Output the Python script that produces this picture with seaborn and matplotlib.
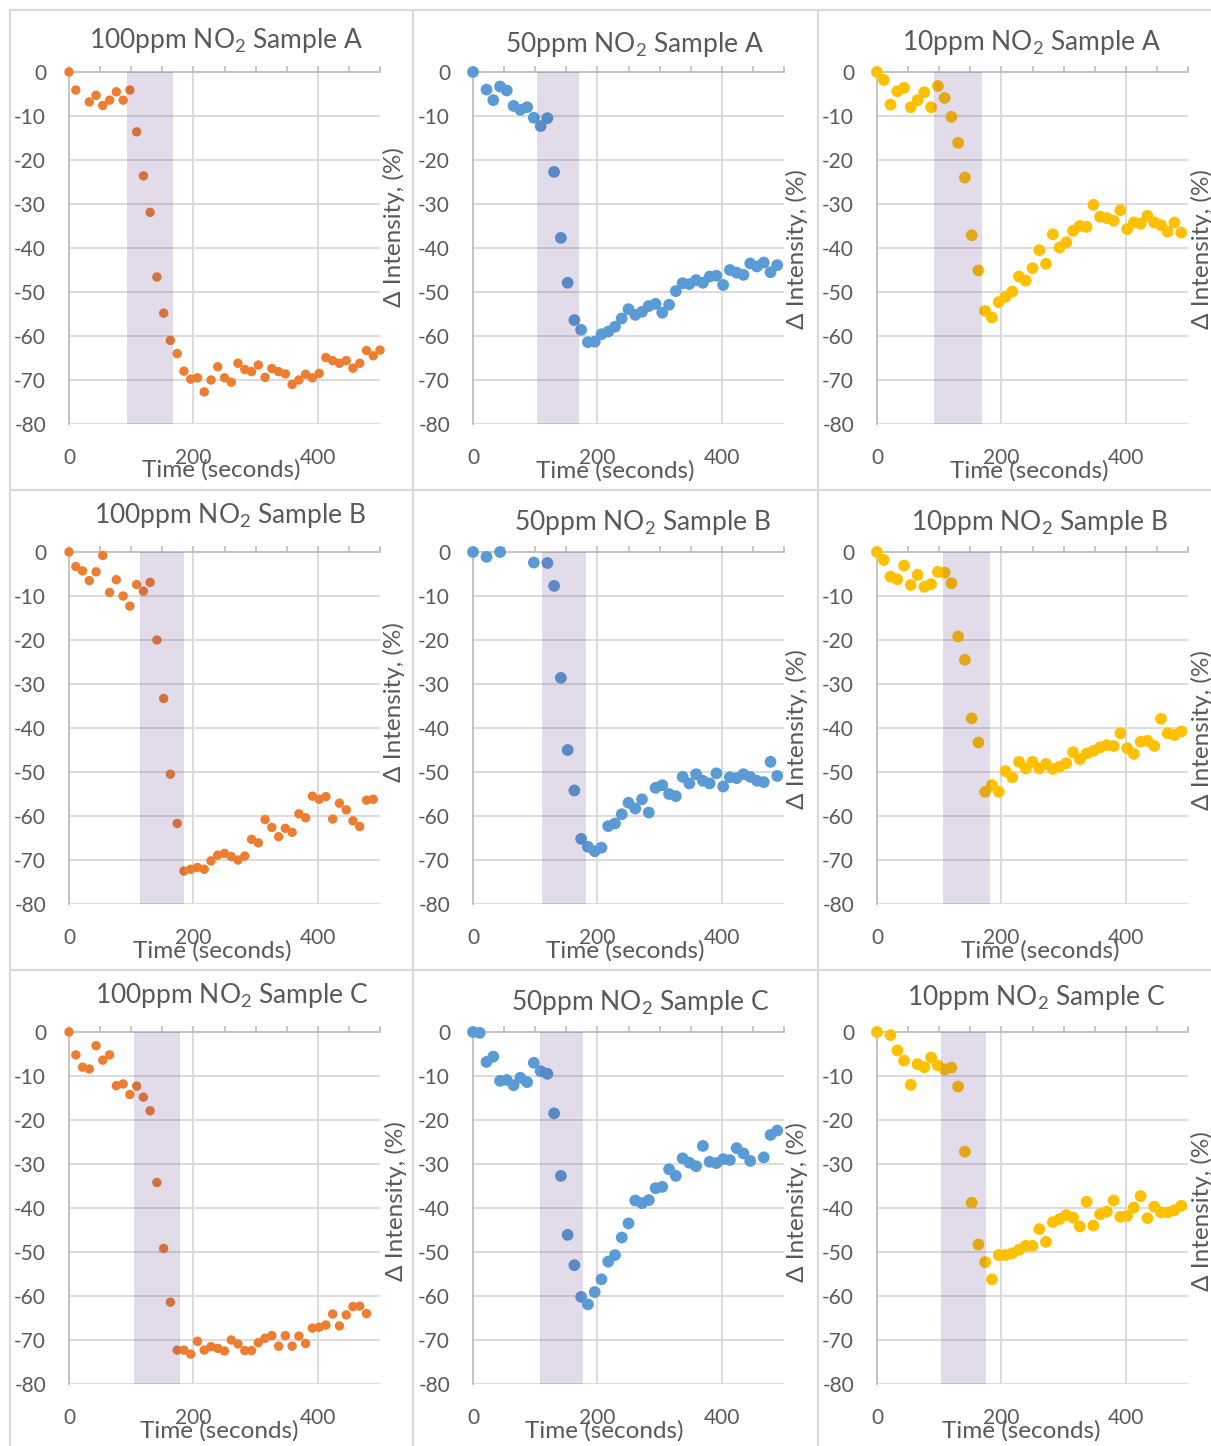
import numpy as np
import pandas as pd
import matplotlib
matplotlib.use("Agg")
import matplotlib.pyplot as plt
import seaborn as sns
from matplotlib.patches import Rectangle
from matplotlib.ticker import MultipleLocator, FixedLocator

# ---------------- data ----------------
time_s = [0, 10.9, 21.7, 32.6, 43.5, 54.3, 65.2, 76.1, 87.0, 97.8, 108.7, 119.6,
          130.4, 141.3, 152.2, 163.0, 173.9, 184.8, 195.7, 206.5, 217.4, 228.3,
          239.1, 250.0, 260.9, 271.7, 282.6, 293.5, 304.3, 315.2, 326.1, 337.0,
          347.8, 358.7, 369.6, 380.4, 391.3, 402.2, 413.0, 423.9, 434.8, 445.7,
          456.5, 467.4, 478.3, 489.1, 500.0]

a100 = [0, -4.1, None, -6.8, -5.3, -7.6, -6.4, -4.5, -6.4, -4.1, -13.6, -23.6, -31.9, -46.6,
        -54.8, -61, -64, -68, -69.8, -69.5, -72.7, -70, -67, -69.5, -70.5, -66.2, -67.6, -68.1,
        -66.6, -69.4, -67.4, -68.1, -68.6, -71, -70, -68.7, -69.5, -68.5, -64.9, -65.6, -66.2,
        -65.6, -67.3, -66.2, -63.3, -64.5, -63.2]
a50 = [0, None, -4.0, -6.4, -3.3, -4.2, -7.7, -8.6, -8.0, -10.4, -12.3, -10.5, -22.7, -37.7,
       -47.9, -56.4, -58.6, -61.4, -61.3, -59.6, -59, -57.9, -56, -53.9, -55.2, -54.5, -53.2,
       -52.7, -54.7, -52.9, -49.8, -48, -48.2, -47.3, -47.9, -46.5, -46.3, -48.4, -45, -45.6,
       -46.1, -43.5, -44.2, -43.3, -45.5, -43.9, None]
a10 = [0, -1.8, -7.4, -4.4, -3.6, -8.0, -6.4, -4.6, -8.0, -3.2, -5.9, -10.2, -16.1, -24,
       -37.1, -45.1, -54.3, -55.8, -52.3, -51.1, -49.9, -46.5, -47.4, -44.6, -40.5, -43.6,
       -36.9, -39.9, -38.7, -36.1, -35, -35.2, -30.2, -32.9, -33.2, -33.8, -31.4, -35.7, -34.2,
       -34.5, -32.7, -34.2, -34.8, -36.3, -34.2, -36.5, None]
b100 = [0, -3.3, -4.3, -6.5, -4.5, -0.8, -9.2, -6.3, -10, -12.3, -7.4, -8.9, -6.9, -20, -33.3,
        -50.5, -61.7, -72.5, -72.1, -71.7, -72.1, -70.2, -68.9, -68.5, -69.2, -70, -69.1, -65.3,
        -66.1, -60.8, -62.6, -64.7, -62.8, -63.7, -59.5, -60.4, -55.5, -56.2, -55.6, -60.7,
        -57.1, -58.6, -61.1, -62.4, -56.4, -56.2, None]
b50 = [0, None, -1.1, None, 0, None, None, None, None, -2.4, None, -2.5, -7.7, -28.6, -45,
       -54.2, -65.2, -67, -68, -67.2, -62.3, -61.7, -59.6, -57, -58.3, -56.2, -59.2, -53.6, -53,
       -55, -55.5, -51.1, -52.6, -50.5, -52, -52.6, -50.3, -53.3, -51.2, -51.4, -50.5, -51.1,
       -52, -52.3, -47.7, -50.9, None]
b10 = [0, -1.8, -5.6, -6.2, -3.1, -7.5, -5.2, -7.9, -7.3, -4.5, -4.7, -7.1, -19.2, -24.5,
       -37.8, -43.3, -54.5, -53, -54.5, -49.8, -51.2, -47.7, -49.2, -47.7, -49.2, -48.2, -49.3,
       -48.8, -48, -45.5, -47.1, -45.8, -45.2, -44.4, -43.9, -44.1, -41.2, -44.6, -45.9, -43.1,
       -42.9, -44.1, -37.9, -41.2, -41.6, -40.8, None]
c100 = [0, -5.2, -8.0, -8.4, -3.1, -6.4, -5.2, -12.2, -11.8, -14.2, -12.3, -14.8, -17.9, -34.2,
        -49.2, -61.4, -72.3, -72.3, -73.2, -70.3, -72.3, -71.5, -71.9, -72.5, -70, -70.9, -72.4,
        -72.4, -70.6, -69.6, -69, -71.4, -69, -71.4, -69.1, -70.8, -67.3, -67.1, -66.6, -64.1,
        -66.8, -64.3, -62.4, -62.3, -64, None, None]
c50 = [0, -0.2, -6.8, -5.6, -11.1, -10.9, -12.1, -10.4, -11.4, -7.0, -8.9, -9.5, -18.5, -32.7,
       -46.1, -53, -60.2, -61.9, -59.1, -56.2, -52.2, -50.7, -46.7, -43.5, -38.3, -38.9, -38.2,
       -35.5, -35.2, -31.2, -32.7, -28.7, -29.7, -30.5, -25.9, -29.5, -29.8, -28.9, -29.1,
       -26.4, -27.6, -29.3, None, -28.5, -23.4, -22.4, None]
c10 = [0, None, -0.7, -4.2, -6.5, -12, -7.3, -8.0, -5.8, -7.6, -8.5, -8.1, -12.4, -27.2,
       -38.8, -48.3, -52.3, -56.2, -50.7, -50.7, -50.3, -49.5, -48.6, -48.6, -44.8, -47.7,
       -43.2, -42.5, -41.6, -42.2, -44.2, -38.6, -44, -41.4, -40.8, -38.3, -42, -41.8, -39.9,
       -37.3, -42.3, -39.7, -41, -41, -40.5, -39.5, None]

concentrations = ["100ppm", "50ppm", "10ppm"]
samples = ["A", "B", "C"]
series = [[a100, a50, a10], [b100, b50, b10], [c100, c50, c10]]
shade_start = [[93, 103, 91], [114, 111, 106], [105, 108, 103]]
shade_end = [[168, 170, 169], [185, 181, 182], [178, 177, 175]]
x_ticks = [0, 200, 400]
y_ticks = [0, -10, -20, -30, -40, -50, -60, -70, -80]

# ---------------- style ----------------
sns.set_theme(style="white")
plt.rcParams["font.family"] = ["Lato", "DejaVu Sans"]
plt.rcParams["mathtext.fontset"] = "custom"
plt.rcParams["mathtext.rm"] = "Lato"
plt.rcParams["mathtext.it"] = "Lato"
plt.rcParams["axes.unicode_minus"] = False

TXT = "#595959"
GRID = "#d9d9d9"
colors = ["#ED7D31", "#5B9BD5", "#FFC000"]
msizes = [46, 72, 72]

W, H = 1211, 1446
fig = plt.figure(figsize=(W / 100, H / 100), dpi=100)
fig.patch.set_facecolor("white")

col_x = [(69, 380), (473, 784), (877, 1188)]
row_y = [(72, 424), (552, 904), (1032, 1384)]
box_x = [(10, 413), (413, 818), (818, 1216)]
box_y = [(10, 490), (490, 970), (970, 1451)]

title_pos = [[(226, 48), (634, 52), (1031, 50)],
             [(230, 523), (642, 530), (1039, 530)],
             [(232, 1003), (640, 1010), (1036, 1005)]]
xlab_pos = [[(221, 477), (615, 478), (1029, 478)],
            [(212, 958), (625, 958), (1040, 958)],
            [(219, 1438), (604, 1438), (1021, 1438)]]
ylab_pos = [[(394, 227), (797, 249), (1202, 249)],
            [(394, 702), (797, 729), (1202, 730)],
            [(396, 1201), (797, 1202), (1202, 1211)]]

for r in range(3):
    for c in range(3):
        bx0, bx1 = box_x[c]
        by0, by1 = box_y[r]
        fig.add_artist(Rectangle((bx0 / W, 1 - by1 / H), (bx1 - bx0) / W, (by1 - by0) / H,
                                 transform=fig.transFigure, fill=False, ec=GRID, lw=1.5,
                                 zorder=0))

        L, R = col_x[c]
        T, B = row_y[r]
        ax = fig.add_axes([L / W, 1 - B / H, (R - L) / W, (B - T) / H])
        ax.set_facecolor("none")

        df = pd.DataFrame({"t": time_s, "v": series[r][c]}).dropna()
        sns.scatterplot(data=df, x="t", y="v", ax=ax, color=colors[c], s=msizes[c],
                        edgecolor="none", linewidth=0, zorder=3, legend=False, clip_on=False)

        ax.axvspan(shade_start[r][c], shade_end[r][c], color=(95 / 255, 60 / 255, 135 / 255),
                   alpha=0.18, lw=0, zorder=5)

        ax.set_xlim(0, 500)
        ax.set_ylim(-80, 0)
        ax.xaxis.set_major_locator(FixedLocator(x_ticks))
        ax.xaxis.set_minor_locator(MultipleLocator(50))
        ax.yaxis.set_major_locator(FixedLocator(y_ticks))

        for yv in y_ticks[1:]:
            ax.axhline(yv, color=GRID, lw=1.3, zorder=1)
        for xv in x_ticks[1:]:
            ax.axvline(xv, color=GRID, lw=1.3, zorder=1)

        for s in ["bottom", "right"]:
            ax.spines[s].set_visible(False)
        for s in ["top", "left"]:
            ax.spines[s].set_color("#bfbfbf")
            ax.spines[s].set_linewidth(1.3)
            ax.spines[s].set_zorder(2)

        ax.tick_params(axis="x", which="both", top=True, bottom=False, labeltop=False,
                       labelbottom=True, direction="out", length=4, width=1.2,
                       color="#bfbfbf", pad=13, labelsize=15, labelcolor=TXT)
        ax.tick_params(axis="y", which="both", left=False, right=False, length=0,
                       pad=16.5, labelsize=15, labelcolor=TXT)
        ax.set_xticklabels([str(v) for v in x_ticks])
        ax.set_yticklabels([str(v) for v in y_ticks])

        ax.set_xlabel("Time (seconds)", fontsize=17.5, color=TXT)
        ax.xaxis.set_label_coords(xlab_pos[r][c][0] / W, 1 - xlab_pos[r][c][1] / H,
                                  transform=fig.transFigure)
        ax.xaxis.label.set_va("baseline")
        ax.set_ylabel("\u0394 Intensity, (%)", fontsize=17.5, color=TXT)
        ax.yaxis.set_label_position("right")
        ax.yaxis.set_label_coords(ylab_pos[r][c][0] / W, 1 - ylab_pos[r][c][1] / H,
                                  transform=fig.transFigure)
        ax.yaxis.label.set_va("center")
        ax.yaxis.label.set_ha("center")

        tx, ty = title_pos[r][c]
        fig.text(tx / W, 1 - ty / H,
                 f"{concentrations[c]} NO$_2$ Sample {samples[r]}",
                 ha="center", va="baseline", fontsize=19, color=TXT)

fig.savefig("out.png", dpi=100, facecolor="white")
